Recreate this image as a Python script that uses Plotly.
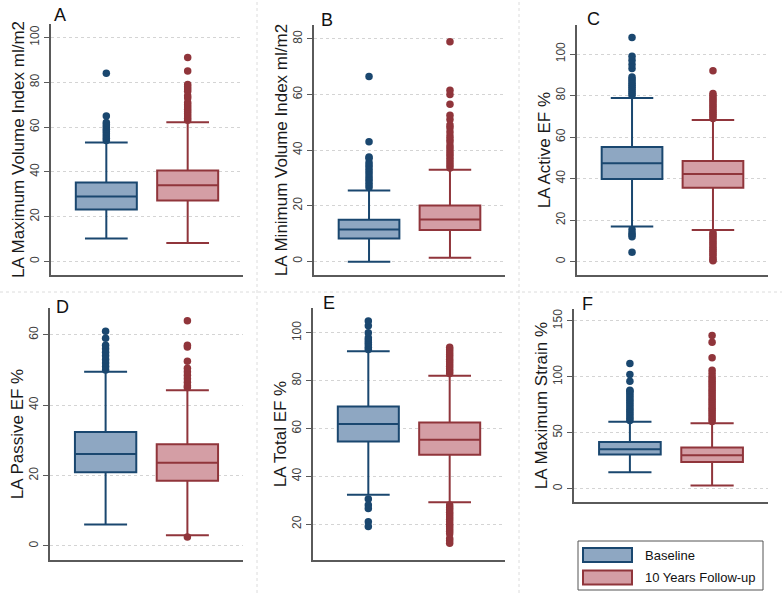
import plotly.graph_objects as go

W, H = 782, 593

# ---- data ----
panel_letters = ["A", "B", "C", "D", "E", "F"]
y_titles = [
    "LA Maximum Volume Index ml/m2",
    "LA Minimum Volume Index ml/m2",
    "LA Active EF %",
    "LA Passive EF %",
    "LA Total EF %",
    "LA Maximum Strain %",
]
group_names = ["Baseline", "10 Years Follow-up"]

base_lower = [10.3, -0.2, 16.9, 6.1, 32.3, 14.6]
base_q1 = [23.2, 8.1, 39.8, 20.9, 54.6, 30.5]
base_median = [29.0, 11.4, 47.4, 26.1, 61.9, 35.2]
base_q3 = [35.3, 14.9, 55.2, 32.4, 69.2, 41.8]
base_upper = [53.1, 25.4, 78.8, 49.5, 92.3, 59.7]

fu_lower = [8.3, 1.2, 15.3, 3.0, 29.2, 2.7]
fu_q1 = [27.2, 11.2, 35.6, 18.5, 49.0, 23.9]
fu_median = [34.0, 15.0, 42.2, 23.6, 55.3, 29.9]
fu_q3 = [40.6, 20.0, 48.5, 28.9, 62.5, 36.8]
fu_upper = [62.2, 32.9, 68.2, 44.2, 82.1, 58.5]

base_outliers = [
    [54, 55, 56, 57, 58, 59, 60, 61, 62, 65, 84],
    [26.5, 27.5, 28.5, 29.5, 30.5, 31.5, 32.5, 33.5, 34.5, 35.5, 37, 37.5, 43, 66.5],
    [80, 81, 82, 83, 84, 85, 86, 87, 88, 89, 93, 95, 97, 99, 108, 15.5, 14, 13, 12, 4.5],
    [50, 51, 52, 53, 54, 55, 56, 57, 59, 61],
    [93, 94, 95, 96, 97, 98, 100, 103, 105, 30.5, 28, 26.5, 21, 19],
    [61, 63, 65, 67, 69, 71, 73, 75, 77, 79, 81, 83, 85, 87, 88, 96, 102, 112],
]
fu_outliers = [
    [63, 64, 65, 66, 67, 68, 69, 70, 71, 73, 74, 76, 77, 78, 79, 85, 91],
    [33.5, 34.5, 35.5, 36.5, 37.5, 38.5, 39.5, 40.5, 41.5, 43, 44, 45, 46.5, 48, 49,
     51, 52.5, 56.5, 60, 61.5, 79],
    [69, 70, 71, 72, 73, 74, 75, 76, 77, 78, 79, 80, 81, 92,
     14, 13, 12, 11, 10, 9, 8, 7, 6, 5, 4, 3, 2, 1, 0.5],
    [45, 45.5, 46.5, 47.5, 48.5, 49.5, 50.5, 52.5, 56.5, 57, 64, 2.5],
    [83, 84, 85, 86, 87, 88, 89, 90, 91, 92, 93, 94,
     28, 27, 26, 25, 24, 23, 22, 21, 20, 19, 18, 17, 16, 14, 13, 12],
    [60, 62, 64, 66, 68, 70, 72, 74, 76, 78, 80, 82, 84, 86, 88, 90, 92, 94, 96, 98,
     100, 103, 106, 117, 131, 137],
]

y_ranges = [[-6, 106], [-5, 85], [-6.4, 114], [-4, 67.6], [5, 110.4], [-12, 160.7]]
y_dtick = [20, 20, 20, 20, 20, 50]

# ---- layout geometry (pixels: x0, x1, y0, y1) ----
panel_px = [
    (51, 243, 24, 275), (314, 505, 25, 275), (577, 768, 25, 275),
    (50, 243, 308, 560), (313, 505, 308, 560), (574, 768, 309, 502),
]
letter_px = [(60, 15), (327, 20), (593, 19), (62, 307), (329, 303), (587, 304)]

navy, navy_fill = "#1a476f", "#8ea7c2"
maroon, maroon_fill = "#90353b", "#d49ea5"
axis_col = "#5a5a5a"


def px(x):
    return x / W


def py(y):
    return 1 - y / H


fig = go.Figure()
layout = {}
annotations = []

for i in range(6):
    n = "" if i == 0 else str(i + 1)
    xa, ya = "x" + n, "y" + n
    stats = [
        (0, base_lower, base_q1, base_median, base_q3, base_upper, base_outliers, navy, navy_fill),
        (1, fu_lower, fu_q1, fu_median, fu_q3, fu_upper, fu_outliers, maroon, maroon_fill),
    ]
    for pos, lo, q1, med, q3, up, outl, lc, fc in stats:
        fig.add_trace(go.Box(
            x=[pos], q1=[q1[i]], median=[med[i]], q3=[q3[i]],
            lowerfence=[lo[i]], upperfence=[up[i]],
            width=0.75, whiskerwidth=0.7, boxpoints=False,
            fillcolor=fc, line=dict(color=lc, width=2),
            xaxis=xa, yaxis=ya, showlegend=False, hoverinfo="skip",
        ))
        fig.add_trace(go.Scatter(
            x=[pos] * len(outl[i]), y=outl[i], mode="markers",
            marker=dict(color=lc, size=7.5),
            xaxis=xa, yaxis=ya, showlegend=False, hoverinfo="skip",
        ))

    x0, x1, y0, y1 = panel_px[i]
    layout["xaxis" + n] = dict(
        domain=[px(x0), px(x1)], anchor=ya, range=[-0.68, 1.68],
        showline=True, linecolor=axis_col, linewidth=1.5,
        showgrid=False, zeroline=False, showticklabels=False, ticks="",
        fixedrange=True,
    )
    layout["yaxis" + n] = dict(
        domain=[py(y1), py(y0)], anchor=xa, range=y_ranges[i],
        tick0=0, dtick=y_dtick[i], tickangle=-90,
        showline=True, linecolor=axis_col, linewidth=1.5,
        ticks="outside", ticklen=5, tickcolor=axis_col, tickwidth=1,
        tickfont=dict(size=12, color="#404040"),
        showgrid=True, gridcolor="#d4d4d4", griddash="dot", gridwidth=1,
        zeroline=False,
        title=dict(text=y_titles[i], font=dict(size=17, color="#1a1a1a"), standoff=0),
        fixedrange=True,
    )
    lx, ly = letter_px[i]
    annotations.append(dict(
        text=panel_letters[i], x=px(lx), y=py(ly), xref="paper", yref="paper",
        showarrow=False, xanchor="center", yanchor="middle",
        font=dict(size=18, color="#111111"),
    ))

# faint panel separators
shapes = [
    dict(type="line", xref="paper", yref="paper", x0=px(257), x1=px(257), y0=0, y1=1,
         line=dict(color="#dcdcdc", width=1, dash="dot")),
    dict(type="line", xref="paper", yref="paper", x0=px(519), x1=px(519), y0=0, y1=1,
         line=dict(color="#dcdcdc", width=1, dash="dot")),
    dict(type="line", xref="paper", yref="paper", x0=0, x1=1, y0=py(292), y1=py(292),
         line=dict(color="#dcdcdc", width=1, dash="dot")),
]

# legend box
shapes.append(dict(type="rect", xref="paper", yref="paper",
                   x0=px(578), x1=px(763), y0=py(590), y1=py(541),
                   line=dict(color="#555555", width=1), fillcolor="white"))
for k, (lc, fc) in enumerate([(navy, navy_fill), (maroon, maroon_fill)]):
    yc = 555 + k * 22.5
    shapes.append(dict(type="rect", xref="paper", yref="paper",
                       x0=px(583), x1=px(632), y0=py(yc + 7), y1=py(yc - 7),
                       line=dict(color=lc, width=2), fillcolor=fc))
    annotations.append(dict(
        text=group_names[k], x=px(643), y=py(yc), xref="paper", yref="paper",
        showarrow=False, xanchor="left", yanchor="middle",
        font=dict(size=13, color="#111111"),
    ))

fig.update_layout(
    width=W, height=H, autosize=False,
    margin=dict(l=0, r=0, t=0, b=0),
    paper_bgcolor="white", plot_bgcolor="white",
    font=dict(family="Liberation Sans, Arial, sans-serif"),
    showlegend=False,
    annotations=annotations, shapes=shapes,
    **layout,
)

# drop the page's default body margin so the figure sits at the window's corner
fig.write_html("out.html", config={"displayModeBar": False},
               post_script="document.body.style.margin='0';document.body.style.overflow='hidden';")
